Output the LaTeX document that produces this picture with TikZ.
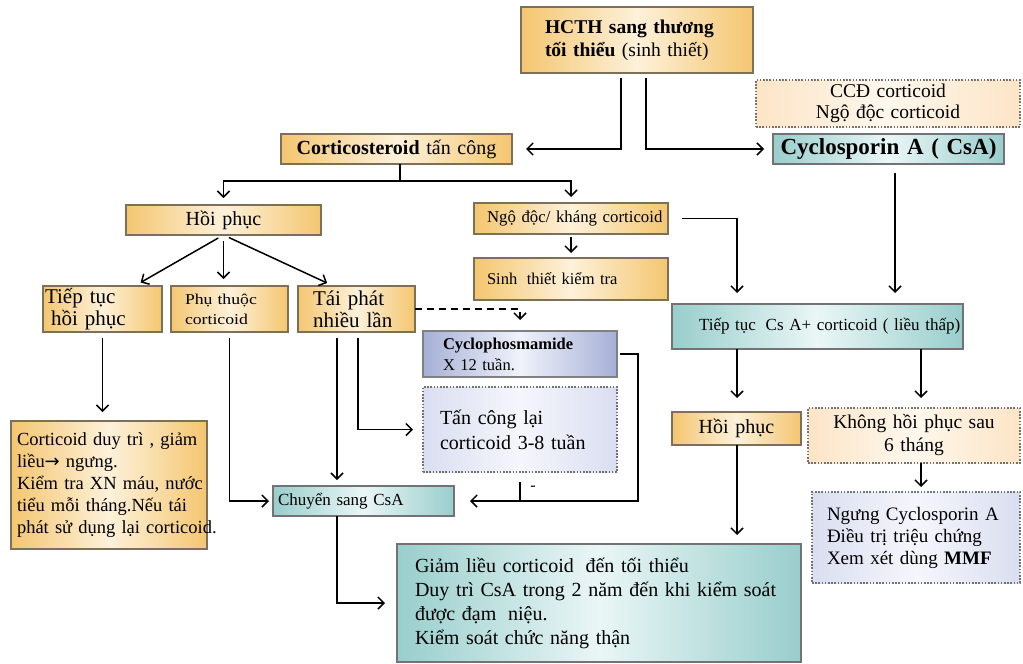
\documentclass[tikz,border=0pt]{standalone}
\usepackage{fontspec}
\setmainfont{Liberation Serif}
\newfontfamily\widefont[FakeStretch=1.18]{Liberation Serif}
\newfontfamily\arrfont{DejaVu Sans}
\usetikzlibrary{arrows.meta,calc}
\definecolor{orA}{RGB}{244,198,112}
\definecolor{orB}{RGB}{253,241,218}
\definecolor{teA}{RGB}{152,206,204}
\definecolor{teB}{RGB}{234,246,246}
\definecolor{blA}{RGB}{165,176,214}
\definecolor{blB}{RGB}{240,242,251}
\definecolor{lvA}{RGB}{218,222,240}
\definecolor{lvB}{RGB}{245,246,252}
\definecolor{peA}{RGB}{252,229,198}
\definecolor{peB}{RGB}{254,247,237}
\definecolor{edge}{RGB}{125,112,90}
\tikzset{
  bx/.style={rectangle, anchor=north west, inner ysep=0pt, outer sep=0pt},
  obox/.style={bx, draw=edge, line width=1.1pt, left color=orA, right color=orA, middle color=orB},
  tbox/.style={bx, draw=black!55, line width=1.1pt, left color=teA, right color=teA, middle color=teB},
  bbox/.style={bx, draw=black!50, line width=1.1pt, left color=blA, right color=blA, middle color=blB},
  lbox/.style={bx, draw=black!55, line width=1.2pt, dash pattern=on 1.6pt off 1.6pt, left color=lvA, right color=lvA, middle color=lvB},
  pbox/.style={bx, draw=black!55, line width=1.2pt, dash pattern=on 1.6pt off 1.6pt, left color=peA, right color=peA, middle color=peB},
  ctr/.style={align=center, inner xsep=0pt},
  lft/.style={align=left},
  arr/.style={draw=black, line width=1.5pt, -{Straight Barb[length=6pt,width=12pt]}},
  ln/.style={draw=black, line width=1.5pt},
}
\begin{document}
\begin{tikzpicture}[x=1pt,y=-1pt]
\fill[white] (0,0) rectangle (1023,664);
\useasboundingbox (0,0) rectangle (1023,664);

% boxes
\node[obox, lft, inner xsep=24pt, text width=184pt, minimum height=66pt, font=\fontsize{19.5}{23}\selectfont] (hcth) at (521,7)
  {\textbf{HCTH sang thương}\\\textbf{tối thiểu} (sinh thiết)};
\node[pbox, ctr, text width=264pt, minimum height=47pt, font=\fontsize{19.5}{21}\selectfont] (ccd) at (756,80)
  {CCĐ corticoid\\Ngộ độc corticoid};
\node[tbox, ctr, text width=231pt, minimum height=30pt, font=\fontsize{23}{24}\selectfont\bfseries] (cyc) at (773,134)
  {Cyclosporin A ( CsA)};
\node[obox, ctr, text width=231pt, minimum height=30pt, font=\fontsize{20}{23}\selectfont] (cs) at (281,134)
  {\textbf{Corticosteroid} tấn công};
\node[obox, ctr, text width=195pt, minimum height=30pt, font=\fontsize{20}{23}\selectfont] (hp1) at (126,205)
  {Hồi phục};
\node[obox, lft, inner xsep=13pt, text width=168pt, minimum height=31pt, font=\fontsize{16.8}{20}\selectfont] (nd) at (474,203)
  {\mbox{Ngộ độc/ kháng corticoid}};
\node[obox, lft, inner xsep=13pt, text width=168pt, minimum height=42pt, font=\fontsize{16.5}{20}\selectfont] (st) at (474,258)
  {\mbox{Sinh\hspace{4pt} thiết kiểm tra}};
\node[obox, lft, inner xsep=2pt, text width=115pt, minimum height=46pt, font=\fontsize{21}{22}\selectfont] (tth) at (43,286)
  {Tiếp tục\\\hspace*{6pt}hồi phục};
\node[obox, lft, inner xsep=14pt, text width=89pt, minimum height=46pt, font=\widefont\fontsize{15}{20}\selectfont] (pt) at (171,286)
  {Phụ thuộc\\corticoid};
\node[obox, lft, inner xsep=15pt, text width=87pt, minimum height=46pt, font=\fontsize{21}{22}\selectfont] (tp) at (298,286)
  {Tái phát\\nhiều lần};
\node[bbox, lft, inner xsep=20pt, text width=154pt, minimum height=46pt, font=\fontsize{16.5}{21}\selectfont] (cp) at (423,331)
  {\textbf{Cyclophosmamide}\\X 12 tuần.};
\node[lbox, lft, inner xsep=17pt, text width=160pt, minimum height=85pt, font=\fontsize{20}{25}\selectfont] (tcl) at (423,387)
  {Tấn công lại\\corticoid 3-8 tuần};
\node[tbox, lft, inner xsep=5pt, text width=171pt, minimum height=30pt, font=\fontsize{17}{20}\selectfont] (cv) at (273,486)
  {Chuyển sang CsA};
\node[obox, lft, inner xsep=6pt, text width=184pt, minimum height=128pt, font=\fontsize{18.5}{22}\selectfont] (cdt) at (11,421)
  {\mbox{Corticoid duy trì , giảm}\\\mbox{liều{\arrfont\fontsize{18}{22}\selectfont →} ngưng.}\\\mbox{Kiểm tra XN máu, nước}\\\mbox{tiểu mỗi tháng.Nếu tái}\\\mbox{phát sử dụng lại corticoid.}};
\node[tbox, lft, inner xsep=18pt, text width=368pt, minimum height=118pt, font=\fontsize{20}{24}\selectfont] (gl) at (397,544)
  {Giảm liều corticoid\hspace{5pt} đến tối thiểu\\Duy trì CsA trong 2 năm đến khi kiểm soát\\được đạm\hspace{5pt} niệu.\\Kiểm soát chức năng thận};
\node[tbox, lft, inner xsep=0pt, text width=291pt, minimum height=45pt, font=\fontsize{17}{20}\selectfont] (tt) at (672,304)
  {\hspace*{27pt}\mbox{Tiếp tục\hspace{4pt} Cs A+ corticoid ( liều thấp)}};
\node[obox, ctr, text width=129pt, minimum height=33pt, font=\fontsize{20}{23}\selectfont] (hp2) at (672,412)
  {Hồi phục};
\node[pbox, ctr, text width=212pt, minimum height=55pt, font=\fontsize{19.5}{23}\selectfont] (kh) at (808,408)
  {Không hồi phục sau\\6 tháng};
\node[lbox, lft, inner xsep=15pt, text width=178pt, minimum height=91pt, font=\fontsize{19}{22}\selectfont] (ng) at (812,492)
  {Ngưng Cyclosporin A\\Điều trị triệu chứng\\Xem xét dùng \textbf{MMF}};
\node[font=\fontsize{16}{18}\selectfont, inner sep=0pt] (mn) at (533,488) {-};

% helper x positions
\coordinate (c621) at (621,0);
\coordinate (c646) at (646,0);
\coordinate (c895) at (895,0);
\coordinate (c737) at (737,0);
\coordinate (c921) at (921,0);
\coordinate (c337) at (337,0);
\coordinate (c358) at (358,0);
\coordinate (c638) at (638,0);
\coordinate (j1) at (400,181);

% connectors
\draw[arr, shorten <=5pt, shorten >=14pt] (hcth.south -| c621) |- (cs.east);
\draw[arr, shorten <=5pt, shorten >=9pt] (hcth.south -| c646) |- (cyc.west);
\draw[arr, shorten <=9pt, shorten >=11pt] (cyc.south -| c895) -- (tt.north -| c895);
\draw[ln] (cs.south -| j1) -- (j1);
\draw[arr, shorten >=7pt] (j1) -| (hp1.north);
\draw[arr, shorten >=6pt] (j1) -| (nd.north);
\draw[arr, shorten <=6pt, shorten >=7pt] (hp1.south) -- ($(tth.north)+(32,0)$);
\draw[arr, shorten <=6pt, shorten >=7pt] (hp1.south) -- (hp1.south |- pt.north);
\draw[arr, shorten <=6pt, shorten >=7pt] (hp1.south) -- ($(tp.north)+(-23,0)$);
\draw[arr, shorten <=6pt, shorten >=9pt] (tth.south) -- (tth.south |- cdt.north);
\draw[arr, shorten <=6pt, shorten >=4pt] (pt.south) |- (cv.west);
\draw[arr, shorten <=6pt, shorten >=6pt] (tp.south -| c337) -- (cv.north -| c337);
\draw[arr, shorten <=6pt, shorten >=10pt] (tp.south -| c358) |- (tcl.west);
\draw[arr, dash pattern=on 7pt off 5pt, shorten >=11pt] (tp.east) -| (cp.north);
\draw[arr, shorten <=3pt, shorten >=16pt] (cp.east) -- (cp.east -| c638) -- (c638 |- cv.east) -- (cv.east);
\draw[ln] ([yshift=-10pt]tcl.south) -- (tcl.south |- cv.east);
\draw[arr, shorten <=14pt, shorten >=11pt] (nd.east) -| (tt.north -| c737);
\draw[arr, shorten <=3pt, shorten >=5pt] (nd.south) -- (st.north);
\draw[arr, shorten >=14pt] (tt.south -| c737) -- (hp2.north -| c737);
\draw[arr, shorten >=10pt] (tt.south -| c921) -- (kh.north -| c921);
\draw[arr, shorten >=5pt] (kh.south -| c921) -- (ng.north -| c921);
\draw[arr, shorten >=9pt] (hp2.south -| c737) -- (gl.north -| c737);
\draw[arr, shorten >=12pt] (cv.south -| c337) |- (gl.west);
\end{tikzpicture}
\end{document}
